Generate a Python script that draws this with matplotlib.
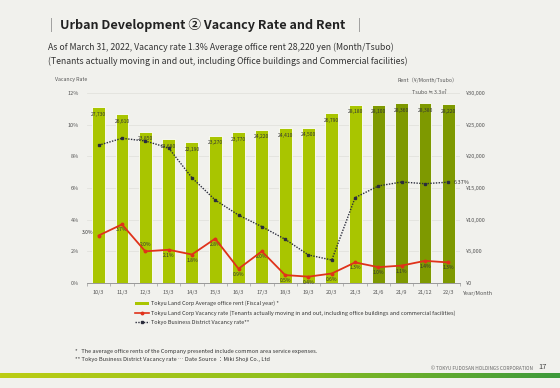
import numpy as np
import matplotlib.pyplot as plt
from matplotlib.patches import Patch
from matplotlib.lines import Line2D
from matplotlib.ticker import FuncFormatter, FixedLocator
from matplotlib.colors import LinearSegmentedColormap

plt.rcParams['font.family'] = ['Noto Sans CJK JP', 'DejaVu Sans']

# data
periods = ["10/3", "11/3", "12/3", "13/3", "14/3", "15/3", "16/3", "17/3",
           "18/3", "19/3", "20/3", "21/3", "21/6", "21/9", "21/12", "22/3"]
rent = [27730, 26610, 23850, 22680, 22190, 23270, 23770, 24220,
        24410, 24500, 26790, 28180, 28100, 28360, 28380, 28220]
land_vacancy = [3.0, 3.7, 2.0, 2.1, 1.8, 2.8, 0.9, 2.0,
                0.5, 0.4, 0.6, 1.3, 1.0, 1.1, 1.4, 1.3]
district_vacancy = [8.70, 9.14, 8.97, 8.53, 6.65, 5.24, 4.29, 3.56,
                    2.76, 1.77, 1.45, 5.39, 6.13, 6.38, 6.27, 6.37]

bg = "#f1f1ed"
light_green = "#a9c500"
dark_green = "#7e9900"
red = "#e0321a"
navy = "#2b2d3c"
txt = "#333333"

fig = plt.figure(figsize=(5.6, 3.88), dpi=100, facecolor=bg)

# header
fig.text(50/560, 1-25/388, "|", fontsize=9, color="#888888", va="center")
fig.text(60/560, 1-25/388, "Urban Development ② Vacancy Rate and Rent",
         fontsize=9.1, fontweight="bold", color="#222222", va="center")
fig.text(358/560, 1-25/388, "|", fontsize=9, color="#888888", va="center")
fig.text(48/560, 1-47/388,
         "As of March 31, 2022, Vacancy rate 1.3% Average office rent 28,220 yen (Month/Tsubo)",
         fontsize=6.25, color=txt, va="center")
fig.text(48/560, 1-61/388,
         "(Tenants actually moving in and out, including Office buildings and Commercial facilities)",
         fontsize=6.25, color=txt, va="center")

ax = fig.add_axes([87/560, 1-283/388, 373/560, 190/388])
ax2 = ax.twinx()

x = np.arange(len(periods))
colors = [light_green]*12 + [dark_green]*4
ax2.bar(x, rent, width=0.55, color=colors, edgecolor="white", linewidth=0.6, zorder=2)
for xi, r in zip(x, rent):
    ax2.annotate(f"{r:,}", (xi, r), xytext=(0, -5), textcoords="offset points",
                 ha="center", va="center", fontsize=3.6, color=txt)

ax2.set_ylim(0, 30000)
ax2.yaxis.set_major_locator(FixedLocator(range(0, 30001, 5000)))
ax2.yaxis.set_major_formatter(FuncFormatter(lambda v, p: f"¥{int(v):,}"))
ax2.tick_params(axis="y", length=0, labelsize=4, colors="#555555", pad=4)

# lines on top of the bars
ax.set_zorder(ax2.get_zorder() + 1)
ax.patch.set_visible(False)
ax2.patch.set_facecolor(bg)

# gridlines drawn on the bar axis so they sit under the bars
for g in range(2, 13, 2):
    ax2.axhline(g * 2500, color="#e2e2dd", linewidth=0.6, zorder=1)

ax.plot(x, district_vacancy, color=navy, linestyle=(0, (1, 1)), linewidth=1.0,
        marker="s", markersize=2, zorder=4)
ax.plot(x, land_vacancy, color=red, linewidth=1.3, marker="o", markersize=1.8, zorder=5)

for i, v in enumerate(land_vacancy):
    if i == 0:
        off, ha = (-4, 2), "right"
    elif i == 2:
        off, ha = (0, 5), "center"
    else:
        off, ha = (0, -4), "center"
    ax.annotate(f"{v:.1f}%", (i, v), xytext=off, textcoords="offset points",
                ha=ha, va="center", fontsize=3.6, color=txt)
ax.annotate(f"{district_vacancy[-1]:.2f}%", (x[-1], district_vacancy[-1]),
            xytext=(4, 0), textcoords="offset points", ha="left", va="center",
            fontsize=4, color=txt)

ax.set_ylim(0, 12)
ax.set_xlim(-0.5, 15.5)
ax.yaxis.set_major_locator(FixedLocator(range(0, 13, 2)))
ax.yaxis.set_major_formatter(FuncFormatter(lambda v, p: f"{int(v)}%"))
ax.tick_params(axis="y", length=0, labelsize=4, colors="#555555", pad=6)
ax.set_xticks(x)
ax.set_xticklabels(periods)
ax.set_xticks(np.arange(-0.5, 16, 1), minor=True)
ax.tick_params(axis="x", which="major", length=0, labelsize=4, colors="#555555", pad=5)
ax.tick_params(axis="x", which="minor", length=2, color="#aaaaaa", direction="out")
ax2.tick_params(axis="x", length=0)

for a in (ax, ax2):
    for s in ("top", "left", "right"):
        a.spines[s].set_visible(False)
    a.spines["bottom"].set_color("#999999")
    a.spines["bottom"].set_linewidth(0.6)

fig.text(55/560, 1-80/388, "Vacancy Rate", fontsize=3.8, color="#555555", va="center")
fig.text(458/560, 1-80/388, "Rent（¥/Month/Tsubo）", fontsize=3.8, color="#555555",
         va="center", ha="right")
fig.text(447/560, 1-92/388, "Tsubo ≒ 3.3㎡", fontsize=3.8, color="#555555",
         va="center", ha="right", style="italic")
fig.text(463/560, 1-293/388, "Year/Month", fontsize=4, color="#555555", va="center")

handles = [
    Patch(facecolor=light_green, edgecolor="none"),
    Line2D([], [], color=red, linewidth=1.2, marker="o", markersize=1.8),
    Line2D([], [], color=navy, linestyle=(0, (1, 1)), linewidth=1.0, marker="s", markersize=2),
]
labels = [
    "Tokyu Land Corp Average office rent (Fiscal year) *",
    "Tokyu Land Corp Vacancy rate (Tenants actually moving in and out, including office buildings and commercial facilities)",
    "Tokyo Business District Vacancy rate**",
]
fig.legend(handles, labels, loc="upper left", bbox_to_anchor=(135/560, 1-301/388),
           frameon=False, fontsize=3.95, handlelength=2.6, handletextpad=0.3,
           labelspacing=0.75, borderaxespad=0, borderpad=0, labelcolor=txt)

fig.text(75/560, 1-351/388, "*   The average office rents of the Company presented include common area service expenses.",
         fontsize=4.05, color=txt, va="center")
fig.text(75/560, 1-359/388, "** Tokyo Business District Vacancy rate \u2026 Date Source ：Miki Shoji Co., Ltd",
         fontsize=4.05, color=txt, va="center")
fig.text(533/560, 1-368/388, "© TOKYU FUDOSAN HOLDINGS CORPORATION", fontsize=3.4,
         color="#666666", va="center", ha="right")
fig.text(538/560, 1-367/388, "17", fontsize=5.5, color="#444444", va="center")

# gradient strip at the bottom
gax = fig.add_axes([0, 1-378/388, 1, 5/388])
grad = np.linspace(0, 1, 256).reshape(1, -1)
cmap = LinearSegmentedColormap.from_list("strip", ["#bccd14", "#8fbf1e", "#3d9a3c"])
gax.imshow(grad, aspect="auto", cmap=cmap)
gax.axis("off")

fig.savefig("out.png", dpi=100, facecolor=bg)
